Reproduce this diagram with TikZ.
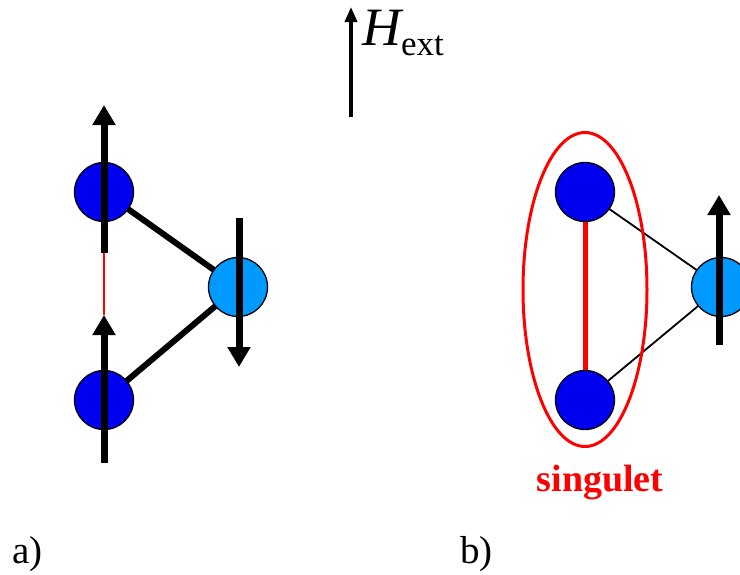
\documentclass[tikz,border=0pt]{standalone}
\usepackage{fontspec}
\setmainfont{Liberation Serif}
\usepackage{xcolor}
\usetikzlibrary{arrows.meta,positioning,calc,shapes.geometric,backgrounds}
\definecolor{spinblue}{HTML}{0000F0}
\definecolor{lightspin}{HTML}{0099FF}
\definecolor{bondred}{HTML}{FF0000}

\begin{document}
\begin{tikzpicture}[x=1pt,y=-1pt,>=Latex]
\tikzset{atom/.style={circle,draw=black,line width=1.3pt,fill=spinblue,minimum size=59pt,inner sep=0pt},
  latom/.style={atom,fill=lightspin},
  spin/.style={line width=7pt,-{Triangle[width=22pt,length=20pt]}},
  bond/.style={line width=6pt,draw=black},
  thinbond/.style={line width=1.8pt,draw=black},
  lbl/.style={inner sep=0pt,font=\fontsize{39}{44}\selectfont}}
\useasboundingbox (0,0) rectangle (740,574);
\clip (0,0) rectangle (740,574);
% external field
\coordinate (h0) at (351,117);
\coordinate (h1) at (351,7);
\draw[line width=3.5pt,-{Triangle[width=12pt,length=15pt]}] (h0) -- (h1);
\node[inner sep=0pt,anchor=base west] (hext) at (362,45)
  {\fontsize{54}{60}\selectfont\itshape H\raisebox{-10pt}{\upshape\fontsize{35}{40}\selectfont ext}};
% a) triangle
\node[atom] (a1) at (104,192) {};
\node[atom] (a2) at (104,400) {};
\node[latom] (a3) at (238,287) {};
\begin{scope}[on background layer]
\draw[bond] (a1.center) -- (a3.center);
\draw[bond] (a2.center) -- (a3.center);
\end{scope}
\coordinate (s1a) at (104,253);
\coordinate (s1b) at (104,105);
\coordinate (s2a) at (104,463);
\coordinate (s2b) at (104,315);
\coordinate (s3a) at (239,218);
\coordinate (s3b) at (239,367);
\draw[line width=1.6pt,draw=bondred] (s1a) -- (s2b);
\draw[spin] (s1a) -- (s1b);
\draw[spin] (s2a) -- (s2b);
\draw[spin] (s3a) -- (s3b);
% b) singulet
\node[atom] (b1) at (585,192) {};
\node[atom] (b2) at (585,400) {};
\node[latom] (b3) at (721,287) {};
\begin{scope}[on background layer]
\draw[line width=5pt,draw=bondred] (b1.center) -- (b2.center);
\draw[thinbond] (b1.center) -- (b3.center);
\draw[thinbond] (b2.center) -- (b3.center);
\end{scope}
\node[ellipse,draw=bondred,line width=3pt,minimum width=124pt,minimum height=314pt] (pair) at (585,289.5) {};
\coordinate (s4a) at (719,345);
\coordinate (s4b) at (719,195);
\draw[spin] (s4a) -- (s4b);
\node[inner sep=0pt,anchor=base,text=bondred,font=\fontsize{38}{44}\selectfont\bfseries] (sing) at (600,491) {singulet};
% labels
\node[lbl,anchor=base west] (la) at (12,563) {a)};
\node[lbl,anchor=base west] (lb) at (460,563) {b)};
\end{tikzpicture}
\end{document}
